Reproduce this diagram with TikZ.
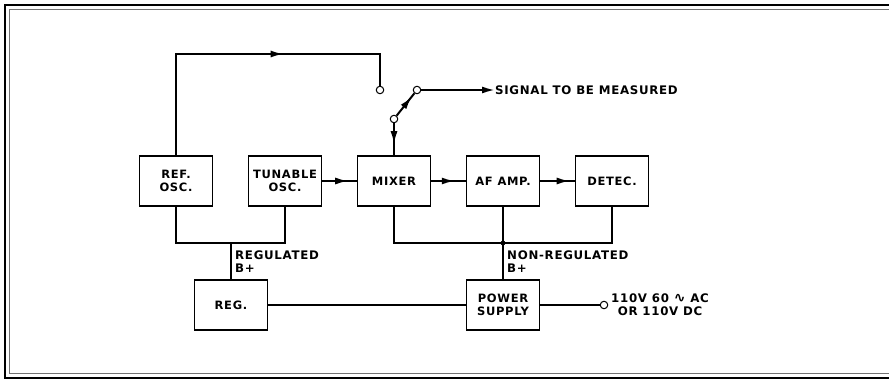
\documentclass[tikz,border=0pt]{standalone}
\usepackage{fontspec}
\setmainfont{DejaVu Sans}[LetterSpace=6]
\usetikzlibrary{arrows.meta}
\usetikzlibrary{decorations.markings}
\usetikzlibrary{positioning}

\begin{document}
\begin{tikzpicture}[
  x=1pt,
  y=-1pt,
  every node/.style={font=\bfseries\fontsize{11.5}{13}\selectfont},
  block/.style={draw, line width=1.1pt, minimum width=73pt, minimum height=50pt, align=center, inner sep=2pt},
  term/.style={circle, draw, fill=white, line width=1pt, minimum size=7.5pt, inner sep=0pt},
  txt/.style={inner sep=0pt, align=left, font=\bfseries\fontsize{11.8}{13}\selectfont},
  wire/.style={line width=2pt},
  thinwire/.style={line width=1.4pt},
  midarrow/.style={postaction={decorate}, decoration={markings,
    mark=at position #1 with {\arrow{Latex[length=13pt,width=7pt]}}}}
]

\def\dx{109}  
\def\xo{176}  
\def\yt{181}  
\def\yb{305}  

\useasboundingbox (0,0) rectangle (889,382);

% frame
\draw[line width=2.4pt] (889,5) -| (5,378) -- (889,378);
\draw[line width=0.5pt, black!55] (889,9.5) -| (9.5,373.5) -- (889,373.5);

\node[block] (ref) at (\xo,\yt) {REF.\\OSC.};
\node[block] (tun) at (\xo+\dx,\yt) {TUNABLE\\OSC.};
\node[block] (mix) at (\xo+2*\dx,\yt) {MIXER};
\node[block] (af) at (\xo+3*\dx,\yt) {AF AMP.};
\node[block] (det) at (\xo+4*\dx,\yt) {DETEC.};

\node[block] (reg) at (231,\yb) {REG.};
\node[block] (ps) at (\xo+3*\dx,\yb) {POWER\\SUPPLY};

\node[term] (s0) at (380,90) {};
\node[term] (s1) at (\xo+2*\dx,119) {};
\node[term] (s2) at (417,90) {};
\node[term] (ac) at (604,\yb) {};

\node[txt, anchor=west] (sig) at (495,90) {SIGNAL TO BE MEASURED};
\node[txt, anchor=west, align=center] (acl) at (611,\yb) {110V 60 {\fontsize{14}{13}\selectfont ∿} AC\\OR 110V DC};
\node[txt, anchor=north west] (rl) at (235,251) {REGULATED\\B+};
\node[txt, anchor=north west] (nrl) at (507,251) {NON-REGULATED\\B+};

\coordinate (fb) at (380,54);
\draw[wire, midarrow=0.62] (ref.north) |- (fb) -- (s0.north);

\draw[wire, midarrow=0.65] (s1) -- (mix.north);
\draw[wire, midarrow=0.85] (s1) -- (s2);
\draw[wire, -{Latex[length=13pt,width=7pt]}] (s2) -- (sig.west);

\draw[wire, midarrow=0.75] (tun) -- (mix);
\draw[wire, midarrow=0.68] (mix) -- (af);
\draw[wire, midarrow=0.85] (af) -- (det);

\coordinate (rb) at (231,243);
\draw[wire] (ref.south) |- (rb) -| (tun.south);
\draw[wire] (rb) -- (reg.north);

\coordinate (nb) at (\xo+3*\dx,243);
\draw[wire] (mix.south) |- (nb) -| (det.south);
\draw[wire] (af.south) -- (ps.north);
\fill (nb) circle (2.4pt);

\draw[thinwire] (reg) -- (ps);
\draw[thinwire] (ps) -- (ac);

\end{tikzpicture}
\end{document}
